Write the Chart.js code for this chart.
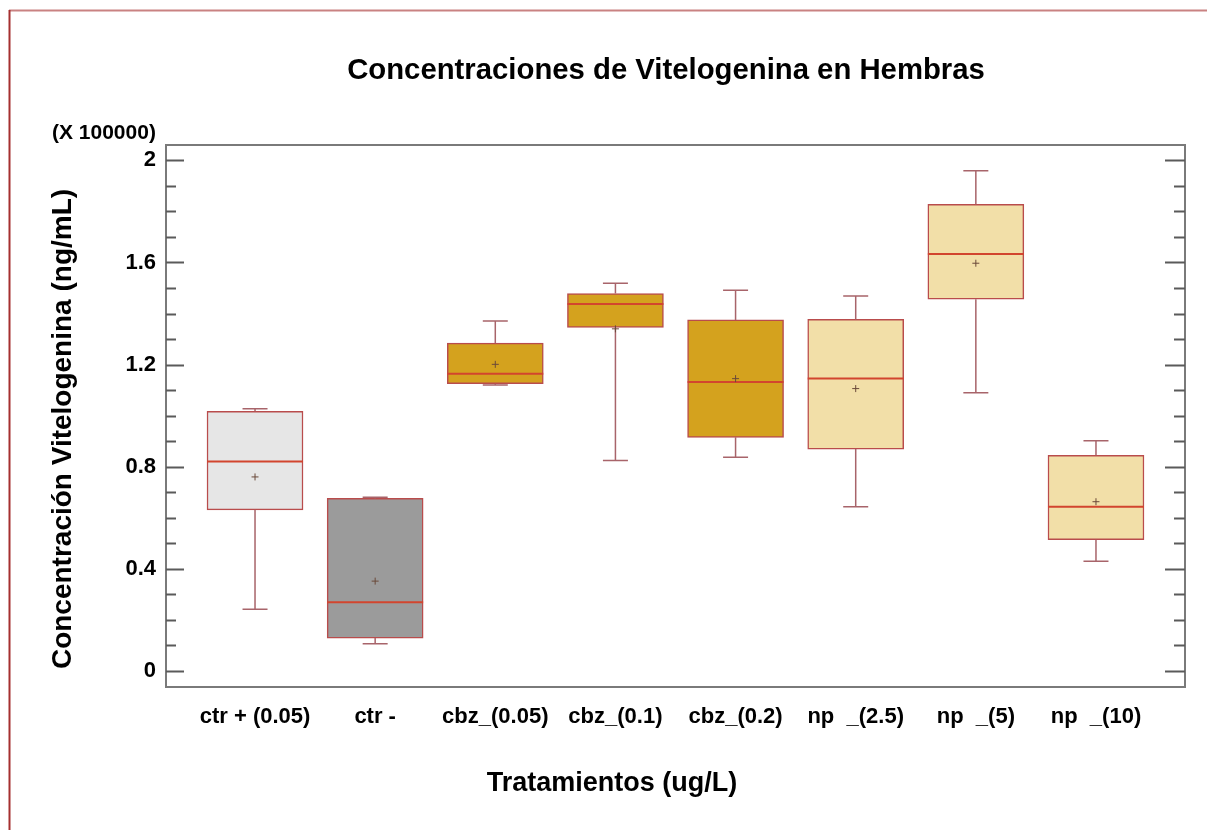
<!DOCTYPE html>
<html>
<head>
<meta charset="utf-8">
<script src="https://cdn.jsdelivr.net/npm/chart.js@4/dist/chart.umd.min.js"></script>
<style>
  html, body { margin: 0; padding: 0; background: #ffffff; }
  #c { display: block; }
</style>
</head>
<body>
<canvas id="c" width="1207" height="830"></canvas>
<script>
// ---- Data (values in units of 100000 ng/mL) ----
const categories = ['ctr + (0.05)', 'ctr -', 'cbz_(0.05)', 'cbz_(0.1)', 'cbz_(0.2)', 'np  _(2.5)', 'np  _(5)', 'np  _(10)'];
const whiskerLow  = [0.242, 0.107, 1.120, 0.824, 0.837, 0.643, 1.090, 0.430];
const q1          = [0.631, 0.129, 1.125, 1.346, 0.915, 0.869, 1.456, 0.514];
const median      = [0.820, 0.269, 1.164, 1.437, 1.132, 1.146, 1.633, 0.643];
const q3          = [1.017, 0.676, 1.284, 1.478, 1.375, 1.377, 1.828, 0.845];
const whiskerHigh = [1.027, 0.680, 1.371, 1.519, 1.491, 1.469, 1.959, 0.902];
const means       = [0.760, 0.352, 1.201, 1.340, 1.145, 1.106, 1.597, 0.663];

const yMajorTicks = [0, 0.4, 0.8, 1.2, 1.6, 2.0];
const yTickLabels = ['0', '0.4', '0.8', '1.2', '1.6', '2'];
const yMinorTicks = [0.1, 0.2, 0.3, 0.5, 0.6, 0.7, 0.9, 1.0, 1.1, 1.3, 1.4, 1.5, 1.7, 1.8, 1.9];

const titleText = 'Concentraciones de Vitelogenina en Hembras';
const yTitleText = 'Concentración Vitelogenina (ng/mL)';
const xTitleText = 'Tratamientos (ug/L)';
const multiplierText = '(X 100000)';

// ---- Styles ----
const fills = ['#e6e6e6', '#9b9b9b', '#d4a21e', '#d4a21e', '#d4a21e', '#f2dfa8', '#f2dfa8', '#f2dfa8'];
const boxBorder = '#b94c4c';
const whiskerColor = '#a8646a';
const medianColor = '#d2452e';
const meanColor = '#6b4a3a';
const FONT = '"Liberation Sans", Arial, sans-serif';
const BOX_W = 96;
const CAP_W = 25;

const boxData = categories.map((c, i) => ({ x: i, y: [q1[i], q3[i]] }));

const decor = {
  id: 'decor',
  beforeDraw(chart) {
    const ctx = chart.ctx;
    ctx.save();
    ctx.fillStyle = '#ffffff';
    ctx.fillRect(0, 0, chart.width, chart.height);
    // page border
    ctx.strokeStyle = '#c98282';
    ctx.lineWidth = 2;
    ctx.beginPath(); ctx.moveTo(9, 10.5); ctx.lineTo(chart.width, 10.5); ctx.stroke();
    ctx.strokeStyle = '#a53030';
    ctx.beginPath(); ctx.moveTo(9.5, 10); ctx.lineTo(9.5, chart.height); ctx.stroke();
    ctx.restore();
  },
  afterDatasetsDraw(chart) {
    const ctx = chart.ctx;
    const xs = chart.scales.x, ys = chart.scales.y;
    ctx.save();
    categories.forEach((c, i) => {
      const cx = xs.getPixelForValue(i);
      const yLo = ys.getPixelForValue(whiskerLow[i]);
      const yQ1 = ys.getPixelForValue(q1[i]);
      const yQ3 = ys.getPixelForValue(q3[i]);
      const yHi = ys.getPixelForValue(whiskerHigh[i]);
      const yMed = ys.getPixelForValue(median[i]);
      const yMean = ys.getPixelForValue(means[i]);
      // whiskers
      ctx.strokeStyle = whiskerColor;
      ctx.lineWidth = 1.5;
      ctx.beginPath();
      ctx.moveTo(cx, yQ3); ctx.lineTo(cx, yHi);
      ctx.moveTo(cx - CAP_W / 2, yHi); ctx.lineTo(cx + CAP_W / 2, yHi);
      ctx.moveTo(cx, yQ1); ctx.lineTo(cx, yLo);
      ctx.moveTo(cx - CAP_W / 2, yLo); ctx.lineTo(cx + CAP_W / 2, yLo);
      ctx.stroke();
      // median
      ctx.strokeStyle = medianColor;
      ctx.lineWidth = 2;
      ctx.beginPath();
      ctx.moveTo(cx - BOX_W / 2, yMed); ctx.lineTo(cx + BOX_W / 2, yMed);
      ctx.stroke();
      // mean marker
      ctx.strokeStyle = meanColor;
      ctx.lineWidth = 1;
      ctx.beginPath();
      ctx.moveTo(cx - 3.5, yMean); ctx.lineTo(cx + 3.5, yMean);
      ctx.moveTo(cx, yMean - 3.5); ctx.lineTo(cx, yMean + 3.5);
      ctx.stroke();
    });
    ctx.restore();
  },
  afterDraw(chart) {
    const ctx = chart.ctx;
    const a = chart.chartArea;
    const ys = chart.scales.y;
    ctx.save();
    // frame
    ctx.strokeStyle = '#7a7a7a';
    ctx.lineWidth = 2;
    ctx.strokeRect(a.left, a.top, a.right - a.left, a.bottom - a.top);
    // inward ticks
    ctx.strokeStyle = '#5a5a5a';
    ctx.lineWidth = 2;
    ctx.beginPath();
    yMajorTicks.forEach(v => {
      const y = Math.round(ys.getPixelForValue(v)) + 0.5;
      ctx.moveTo(a.left, y); ctx.lineTo(a.left + 18, y);
      ctx.moveTo(a.right, y); ctx.lineTo(a.right - 20, y);
    });
    yMinorTicks.forEach(v => {
      const y = Math.round(ys.getPixelForValue(v)) + 0.5;
      ctx.moveTo(a.left, y); ctx.lineTo(a.left + 10, y);
      ctx.moveTo(a.right, y); ctx.lineTo(a.right - 11, y);
    });
    ctx.stroke();
    // texts
    ctx.fillStyle = '#000000';
    ctx.textAlign = 'center';
    ctx.textBaseline = 'middle';
    ctx.font = 'bold 29.3px ' + FONT;
    ctx.fillText(titleText, 666, 71);
    ctx.font = 'bold 27px ' + FONT;
    ctx.fillText(xTitleText, 612, 784);
    ctx.font = 'bold 21px ' + FONT;
    ctx.textAlign = 'left';
    ctx.fillText(multiplierText, 52, 133);
    ctx.save();
    ctx.translate(63, 429);
    ctx.rotate(-Math.PI / 2);
    ctx.textAlign = 'center';
    ctx.font = 'bold 28px ' + FONT;
    ctx.fillText(yTitleText, 0, 0);
    ctx.restore();
    ctx.restore();
  }
};

new Chart(document.getElementById('c'), {
  type: 'bar',
  data: {
    datasets: [{
      data: boxData,
      backgroundColor: fills,
      borderColor: boxBorder,
      borderWidth: 1.5,
      borderSkipped: false,
      barThickness: BOX_W
    }]
  },
  options: {
    responsive: false,
    animation: false,
    devicePixelRatio: 1,
    layout: { padding: { top: 145, right: 22, left: 0, bottom: 0 } },
    plugins: { legend: { display: false }, tooltip: { enabled: false }, title: { display: false } },
    scales: {
      x: {
        type: 'linear',
        offset: false,
        min: -0.741,
        max: 7.741,
        grid: { display: false, drawTicks: false, offset: false },
        border: { display: false },
        afterBuildTicks: s => { s.ticks = categories.map((c, i) => ({ value: i })); },
        afterFit: s => { s.height = 143; },
        ticks: {
          padding: 17,
          maxRotation: 0,
          autoSkip: false,
          color: '#000000',
          font: { family: FONT, size: 22, weight: 'bold' },
          callback: (v) => categories[v]
        }
      },
      y: {
        type: 'linear',
        min: -0.0627,
        max: 2.06,
        grid: { display: false, drawTicks: false },
        border: { display: false },
        afterBuildTicks: s => { s.ticks = yMajorTicks.map(v => ({ value: v })); },
        afterFit: s => { s.width = 166; },
        ticks: {
          padding: 10,
          color: '#000000',
          font: { family: FONT, size: 22, weight: 'bold' },
          callback: (v, i) => yTickLabels[i]
        }
      }
    }
  },
  plugins: [decor]
});
</script>
</body>
</html>
